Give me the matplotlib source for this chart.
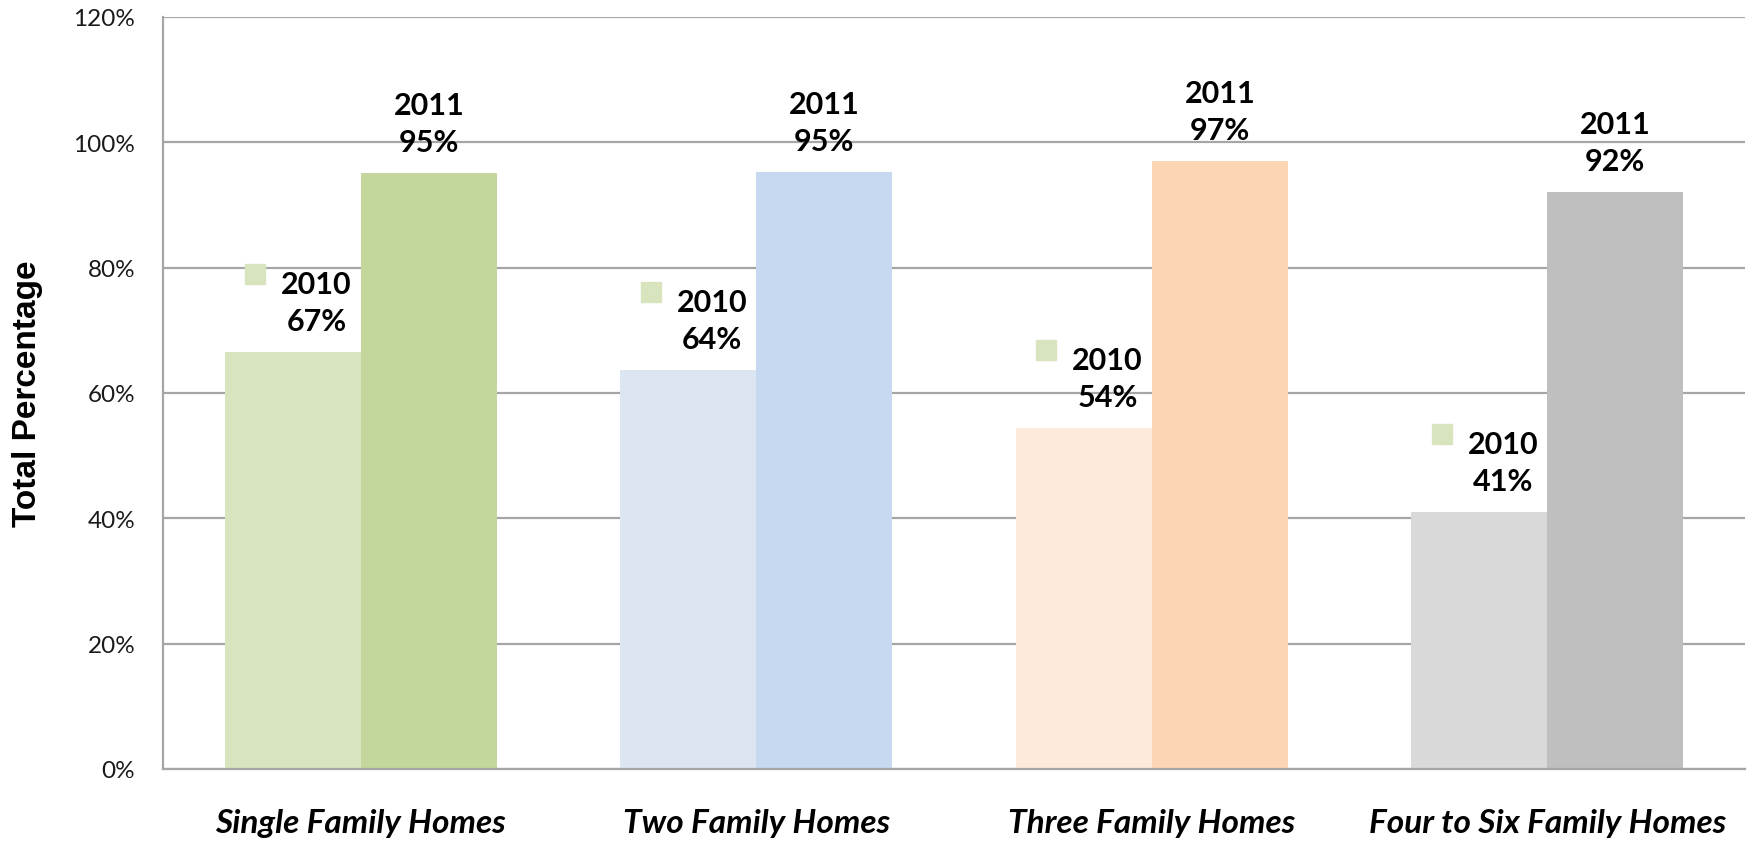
import matplotlib
matplotlib.use("Agg")
import matplotlib.pyplot as plt
import matplotlib.transforms as mtransforms
import numpy as np

plt.rcParams['font.family'] = ['Lato', 'DejaVu Sans']

categories = ["Single Family Homes", "Two Family Homes", "Three Family Homes", "Four to Six Family Homes"]
vals_2010 = [0.666, 0.637, 0.544, 0.41]
vals_2011 = [0.951, 0.953, 0.971, 0.921]
labels_2010 = ["67%", "64%", "54%", "41%"]
labels_2011 = ["95%", "95%", "97%", "92%"]
colors_2010 = ["#D7E4BD", "#DCE6F2", "#FDEADA", "#D9D9D9"]
colors_2011 = ["#C3D69B", "#C6D9F1", "#FCD5B5", "#BFBFBF"]
legend_key_color = "#D7E4BD"
yticks = [0, 0.2, 0.4, 0.6, 0.8, 1.0, 1.2]
ytick_labels = ["0%", "20%", "40%", "60%", "80%", "100%", "120%"]

W, H = 1748, 845
fig = plt.figure(figsize=(W / 100, H / 100), dpi=100)
ax = fig.add_axes([163 / W, 75 / H, 1582 / W, 752 / H])

x = np.arange(len(categories))
bw = 0.344
grid_c = "#A6A6A6"

ax.bar(x - bw / 2, vals_2010, bw, color=colors_2010, zorder=2)
ax.bar(x + bw / 2, vals_2011, bw, color=colors_2011, zorder=2)

ax.set_xlim(-0.5, 3.5)
ax.set_ylim(0, 1.2)
ax.set_yticks(yticks)
ax.set_yticklabels(ytick_labels, fontsize=17.5, color="#1a1a1a")
ax.yaxis.grid(True, color=grid_c, linewidth=1.6, zorder=0)
ax.set_axisbelow(True)
ax.tick_params(axis='y', length=0, pad=20)
ax.tick_params(axis='x', length=0, pad=28)
ax.set_xticks(x)
ax.set_xticklabels(categories, fontsize=24, fontweight='bold', fontstyle='italic')

for s in ["top", "right"]:
    ax.spines[s].set_visible(False)
for s in ["left", "bottom"]:
    ax.spines[s].set_color(grid_c)
    ax.spines[s].set_linewidth(1.6)

fig.text(28 / W, 1 - 394 / H, "Total Percentage", rotation=90, ha='center', va='center',
         fontsize=24, fontweight='bold', family=['Liberation Sans', 'DejaVu Sans'])

lab_fs = 22
for i in range(len(categories)):
    # 2011 labels
    ax.annotate("2011\n" + labels_2011[i], xy=(x[i] + bw / 2, vals_2011[i]),
                xytext=(0, 12), textcoords='offset points', ha='center', va='bottom',
                fontsize=lab_fs, fontweight='bold', linespacing=1.4, zorder=5)
    # 2010 labels with legend key
    ax.annotate("2010\n" + labels_2010[i], xy=(x[i] - bw / 2, vals_2010[i]),
                xytext=(17, 12), textcoords='offset points', ha='center', va='bottom',
                fontsize=lab_fs, fontweight='bold', linespacing=1.4, zorder=5)
    tr = mtransforms.offset_copy(ax.transData, fig=fig, x=-27, y=56, units='points')
    ax.plot([x[i] - bw / 2], [vals_2010[i]], marker='s', ms=14, color=legend_key_color,
            linestyle='none', transform=tr, zorder=5, clip_on=False)

fig.savefig("out.png", dpi=100, facecolor="white")
